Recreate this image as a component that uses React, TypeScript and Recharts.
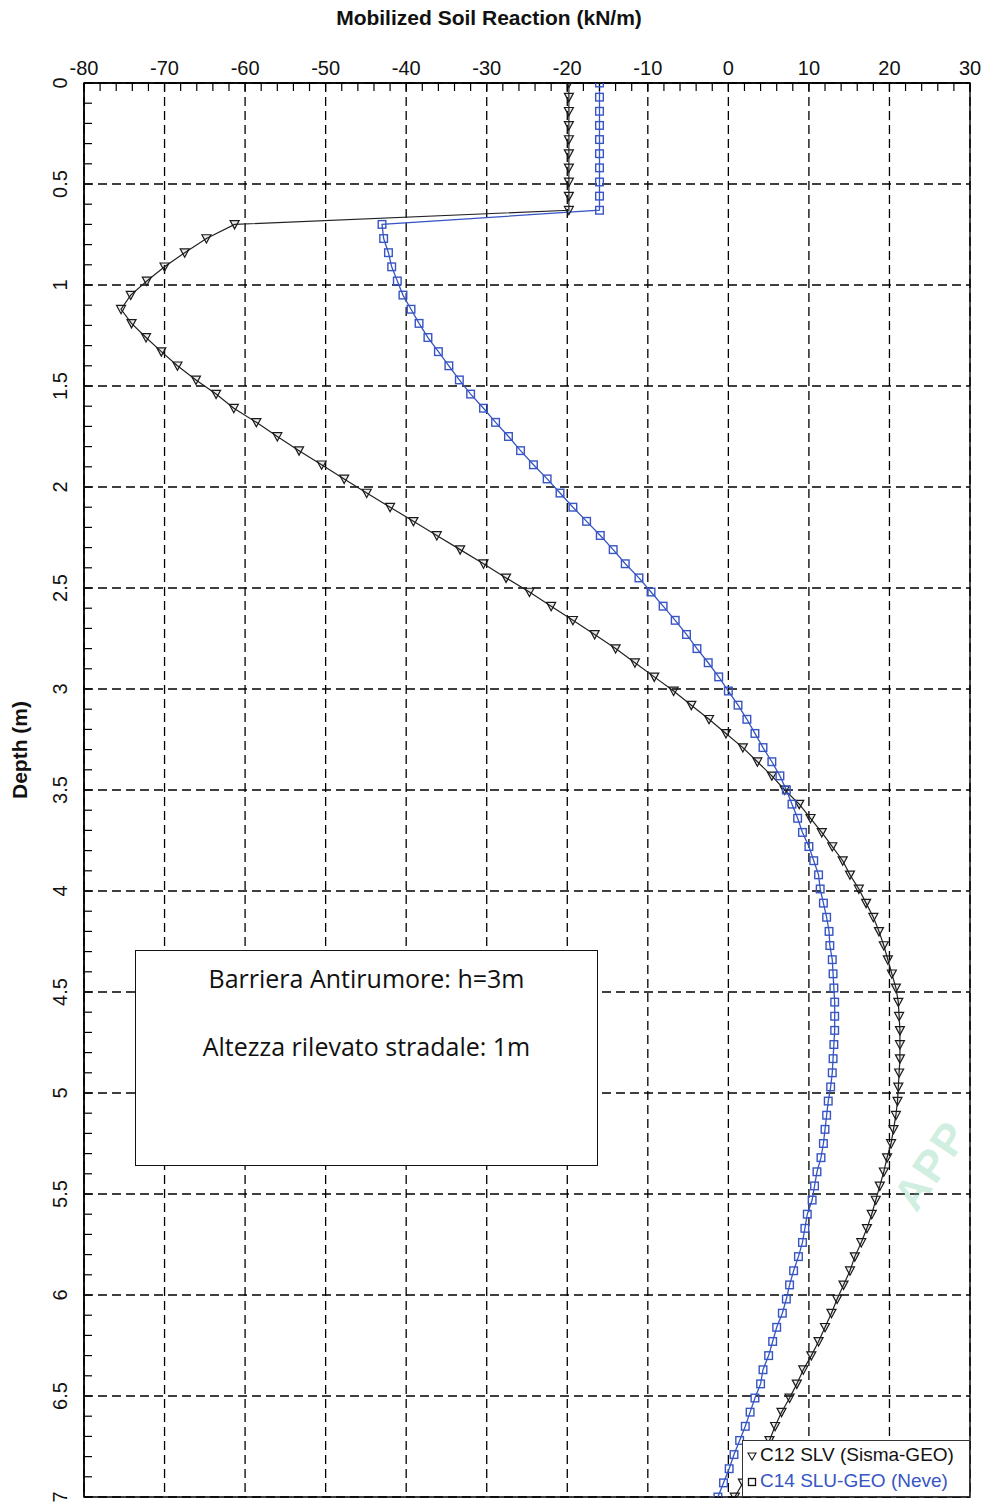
import React from 'react'
import { LineChart, Line, XAxis, YAxis, CartesianGrid, ReferenceArea } from 'recharts'

// depth of each output node along the wall (m)
const DEPTH_M = [
  0, 0.07, 0.14, 0.21, 0.28, 0.35, 0.42, 0.49, 0.56, 0.63,
  0.7, 0.77, 0.84, 0.91, 0.98, 1.05, 1.12, 1.19, 1.26, 1.33,
  1.4, 1.47, 1.54, 1.61, 1.68, 1.75, 1.82, 1.89, 1.96, 2.03,
  2.1, 2.17, 2.24, 2.31, 2.38, 2.45, 2.52, 2.59, 2.66, 2.73,
  2.8, 2.87, 2.94, 3.01, 3.08, 3.15, 3.22, 3.29, 3.36, 3.43,
  3.5, 3.57, 3.64, 3.71, 3.78, 3.85, 3.92, 3.99, 4.06, 4.13,
  4.2, 4.27, 4.34, 4.41, 4.48, 4.55, 4.62, 4.69, 4.76, 4.83,
  4.9, 4.97, 5.04, 5.11, 5.18, 5.25, 5.32, 5.39, 5.46, 5.53,
  5.6, 5.67, 5.74, 5.81, 5.88, 5.95, 6.02, 6.09, 6.16, 6.23,
  6.3, 6.37, 6.44, 6.51, 6.58, 6.65, 6.72, 6.79, 6.86, 6.93,
  7.0,
]

// C12 SLV (Sisma-GEO), kN/m
const C12_SLV = [
  -19.8, -19.8, -19.8, -19.8, -19.8, -19.8, -19.8, -19.8, -19.8, -19.8,
  -61.3, -64.8, -67.5, -70.0, -72.2, -74.2, -75.4, -74.1, -72.3, -70.4,
  -68.4, -66.1, -63.6, -61.4, -58.6, -56.0, -53.3, -50.5, -47.7, -44.9,
  -42.0, -39.1, -36.2, -33.3, -30.4, -27.6, -24.7, -22.0, -19.3, -16.6,
  -14.0, -11.6, -9.2, -6.8, -4.6, -2.4, -0.3, 1.8, 3.6, 5.4,
  7.0, 8.8, 10.2, 11.6, 12.9, 14.2, 15.1, 16.2, 17.1, 18.0,
  18.7, 19.3, 19.8, 20.3, 20.8, 21.1, 21.2, 21.3, 21.3, 21.3,
  21.2, 21.1, 21.0, 20.8, 20.5, 20.2, 19.7, 19.3, 18.8, 18.3,
  17.8, 17.2, 16.5, 15.7, 15.1, 14.3, 13.5, 12.8, 12.0, 11.2,
  10.3, 9.3, 8.5, 7.6, 6.6, 5.8, 5.1, 4.1, 3.0, 1.8,
  0.8,
]

// C14 SLU-GEO (Neve), kN/m
const C14_SLU_GEO = [
  -16.0, -16.0, -16.0, -16.0, -16.0, -16.0, -16.0, -16.0, -16.0, -16.0,
  -43.0, -42.8, -42.2, -41.8, -41.1, -40.4, -39.4, -38.4, -37.3, -36.0,
  -34.7, -33.4, -32.0, -30.4, -28.9, -27.3, -25.8, -24.2, -22.5, -20.9,
  -19.3, -17.6, -15.9, -14.3, -12.8, -11.1, -9.6, -8.1, -6.6, -5.2,
  -3.9, -2.5, -1.2, 0.0, 1.2, 2.3, 3.3, 4.3, 5.4, 6.4,
  7.2, 7.9, 8.6, 9.2, 10.0, 10.6, 11.2, 11.4, 11.8, 12.2,
  12.5, 12.6, 12.9, 13.0, 13.1, 13.2, 13.2, 13.2, 13.1, 13.0,
  12.9, 12.7, 12.4, 12.2, 12.0, 11.8, 11.5, 11.0, 10.7, 10.4,
  9.8, 9.5, 9.2, 8.7, 8.1, 7.6, 7.2, 6.7, 6.0, 5.5,
  5.0, 4.3, 4.0, 3.3, 2.7, 2.1, 1.4, 0.7, 0.1, -0.6,
  -1.3,
]

const X_LABELS = [-80, -70, -60, -50, -40, -30, -20, -10, 0, 10, 20, 30]
const Y_LABELS = [0, 0.5, 1, 1.5, 2, 2.5, 3, 3.5, 4, 4.5, 5, 5.5, 6, 6.5, 7]

// minor ticks: every 2 kN/m across the top, every 0.1 m down the side
const X_TICKS = Array.from({ length: 56 }, (_, i) => -80 + i * 2)
const Y_TICKS = Array.from({ length: 71 }, (_, i) => i / 10)

const data = DEPTH_M.map((depth, i) => ({ depth, c12: C12_SLV[i], c14: C14_SLU_GEO[i] }))

const FONT = "'Liberation Sans', Arial, Helvetica, sans-serif"
const BLUE = '#3755c4'
const DARK = '#1a1a1a'

function TopTick(props: any) {
  const { x, y, payload } = props
  if (!X_LABELS.includes(payload.value)) return <g />
  return (
    <text x={x} y={y} textAnchor="middle" fontFamily={FONT} fontSize={20} fill="#111">
      {payload.value}
    </text>
  )
}

function DepthTick(props: any) {
  const { x, y, payload } = props
  const label = Y_LABELS.find((v) => Math.abs(v - payload.value) < 1e-6)
  if (label === undefined) return <g />
  return (
    <text
      x={x}
      y={y}
      transform={`rotate(-90 ${x} ${y})`}
      textAnchor="middle"
      fontFamily={FONT}
      fontSize={20}
      fill="#111"
    >
      {label}
    </text>
  )
}

function TriangleDot(props: any) {
  const { cx, cy, index } = props
  if (cx == null || cy == null) return <g key={index} />
  return (
    <path
      key={index}
      d={`M${cx - 4.5},${cy - 3.8}L${cx + 4.5},${cy - 3.8}L${cx},${cy + 4.5}Z`}
      fill="rgba(0,0,0,0.08)"
      stroke={DARK}
      strokeWidth={1.2}
    />
  )
}

function SquareDot(props: any) {
  const { cx, cy, index } = props
  if (cx == null || cy == null) return <g key={index} />
  return (
    <rect key={index} x={cx - 3.8} y={cy - 3.8} width={7.6} height={7.6} fill="none" stroke={BLUE} strokeWidth={1.4} />
  )
}

export default function App() {
  return (
    <div
      style={{
        position: 'absolute',
        left: 0,
        top: 0,
        width: 988,
        height: 1502,
        overflow: 'hidden',
        background: '#fff',
        fontFamily: FONT,
      }}
    >
      <div
        style={{
          position: 'absolute',
          left: 0,
          width: 978,
          top: 6,
          textAlign: 'center',
          fontWeight: 'bold',
          fontSize: 21,
          color: '#111',
        }}
      >
        Mobilized Soil Reaction (kN/m)
      </div>
      <div
        style={{
          position: 'absolute',
          left: 20,
          top: 750,
          transform: 'translate(-50%, -50%) rotate(-90deg)',
          whiteSpace: 'nowrap',
          fontWeight: 'bold',
          fontSize: 21,
          color: '#111',
        }}
      >
        Depth (m)
      </div>

      {/* in vertical layout the depth axis already runs top to bottom */}
      <LineChart
        width={988}
        height={1502}
        data={data}
        layout="vertical"
        margin={{ top: 53, right: 18, bottom: 5, left: 44 }}
      >
        <CartesianGrid
          stroke="#000"
          strokeWidth={1.3}
          strokeDasharray="9 5"
          verticalValues={X_LABELS}
          horizontalValues={Y_LABELS}
        />
        <XAxis
          type="number"
          orientation="top"
          domain={[-80, 30]}
          ticks={X_TICKS}
          interval={0}
          height={30}
          tickSize={-8}
          tickMargin={16}
          tick={<TopTick />}
          axisLine={{ stroke: '#000', strokeWidth: 1.4 }}
          tickLine={{ stroke: '#000', strokeWidth: 1.2 }}
          allowDataOverflow
        />
        <YAxis
          type="number"
          dataKey="depth"
          domain={[0, 7]}
          ticks={Y_TICKS}
          interval={0}
          width={40}
          tickSize={-8}
          tickMargin={25}
          tick={<DepthTick />}
          axisLine={{ stroke: '#000', strokeWidth: 1.4 }}
          tickLine={{ stroke: '#000', strokeWidth: 1.2 }}
          allowDataOverflow
        />
        <ReferenceArea x1={-80} x2={30} y1={0} y2={7} fill="none" stroke="#000" strokeWidth={1.4} />
        <Line
          type="linear"
          dataKey="c12"
          stroke="#222"
          strokeWidth={1.2}
          dot={<TriangleDot />}
          activeDot={false}
          isAnimationActive={false}
        />
        <Line
          type="linear"
          dataKey="c14"
          stroke={BLUE}
          strokeWidth={1.3}
          dot={<SquareDot />}
          activeDot={false}
          isAnimationActive={false}
        />
      </LineChart>

      {/* project note */}
      <div
        style={{
          position: 'absolute',
          left: 135,
          top: 950,
          width: 463,
          height: 216,
          boxSizing: 'border-box',
          border: '1.5px solid #111',
          background: '#fff',
          fontFamily: "'Open Sans', Lato, sans-serif",
          fontSize: 25,
          color: '#111',
          textAlign: 'center',
        }}
      >
        <div style={{ position: 'absolute', left: 0, right: 0, top: 10 }}>Barriera Antirumore: h=3m</div>
        <div style={{ position: 'absolute', left: 0, right: 0, top: 78 }}>Altezza rilevato stradale: 1m</div>
      </div>

      {/* legend */}
      <div
        style={{
          position: 'absolute',
          left: 742,
          top: 1440,
          width: 228,
          height: 57,
          boxSizing: 'border-box',
          border: '1px solid #333',
          background: '#fff',
          fontSize: 19,
          lineHeight: '26px',
        }}
      >
        <div style={{ position: 'absolute', left: 4, top: 1, whiteSpace: 'nowrap', color: '#111' }}>
          <svg width={10} height={10} style={{ marginRight: 3 }}>
            <path d="M1,2L9,2L5,9Z" fill="none" stroke={DARK} strokeWidth={1.1} />
          </svg>
          C12 SLV (Sisma-GEO)
        </div>
        <div style={{ position: 'absolute', left: 4, top: 27, whiteSpace: 'nowrap', color: BLUE }}>
          <svg width={10} height={10} style={{ marginRight: 3 }}>
            <rect x={1.5} y={1.5} width={7} height={7} fill="none" stroke="#111" strokeWidth={1.3} />
          </svg>
          C14 SLU-GEO (Neve)
        </div>
      </div>

      {/* approval stamp at the edge of the sheet */}
      <div
        style={{
          position: 'absolute',
          left: 884,
          top: 1192,
          transform: 'rotate(-56deg)',
          transformOrigin: 'left top',
          whiteSpace: 'nowrap',
          fontWeight: 'bold',
          fontSize: 44,
          lineHeight: '48px',
          letterSpacing: 2,
          color: 'rgba(110, 205, 160, 0.32)',
        }}
      >
        APP
      </div>
    </div>
  )
}
